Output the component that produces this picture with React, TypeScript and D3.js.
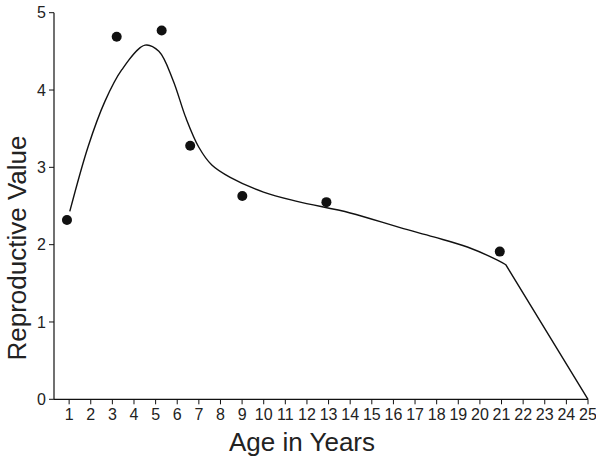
import React from "react";
import * as d3 from "d3";

const xTicks = d3.range(1, 26);
const yTicks = [0, 1, 2, 3, 4, 5];

const pointAge = [0.9, 3.2, 5.28, 6.6, 9.01, 12.9, 20.92];
const pointValue = [2.32, 4.69, 4.77, 3.28, 2.63, 2.55, 1.91];

const curveAge = [1.03, 1.88, 2.65, 3.43, 4.51, 5.15, 5.8, 6.4, 7.0, 7.6, 8.45, 9.99, 11.54, 14.0, 16.31, 17.86, 19.42, 20.81, 21.2];
const curveValue = [2.43, 3.27, 3.85, 4.26, 4.58, 4.5, 4.13, 3.64, 3.26, 3.03, 2.87, 2.68, 2.56, 2.41, 2.22, 2.1, 1.97, 1.8, 1.74];
const tailAge = [21.2, 25];
const tailValue = [1.74, 0];

const xTitle = "Age in Years";
const yTitle = "Reproductive Value";

export default function App() {
  const W = 596, H = 458;
  const x = d3.scaleLinear().domain([0.3, 25]).range([54, 588]);
  const y = d3.scaleLinear().domain([0, 5]).range([399.3, 12.7]);

  const smooth = d3
    .line<[number, number]>()
    .x((d) => x(d[0]))
    .y((d) => y(d[1]))
    .curve(d3.curveCatmullRom.alpha(0.5));
  const straight = d3
    .line<[number, number]>()
    .x((d) => x(d[0]))
    .y((d) => y(d[1]));

  const smoothPts: [number, number][] = curveAge.map((a, i) => [a, curveValue[i]]);
  const tailPts: [number, number][] = tailAge.map((a, i) => [a, tailValue[i]]);
  const tailPath = straight(tailPts) || "";
  const pathD = (smooth(smoothPts) || "") + "L" + tailPath.split("L")[1];

  const tickFont = "'Liberation Sans Narrow', 'Liberation Sans', Arial, sans-serif";
  const titleFont = "'Liberation Sans', Arial, Helvetica, sans-serif";
  const x0 = x.range()[0];
  const y0 = y(0);

  return (
    <svg width={W} height={H} style={{ position: "absolute", left: 0, top: 0, background: "#fff" }}>
      {/* axes */}
      <line x1={x0} x2={x0} y1={y(5)} y2={y0} stroke="#111" strokeWidth={1.2} />
      <line x1={x0} x2={x(25)} y1={y0} y2={y0} stroke="#111" strokeWidth={1.2} />
      {yTicks.map((t) => (
        <g key={"y" + t}>
          <line x1={x0 - 5} x2={x0} y1={y(t)} y2={y(t)} stroke="#111" strokeWidth={1} />
          <text x={x0 - 8} y={y(t)} dy="0.35em" textAnchor="end" fontFamily={tickFont} fontSize={16} fill="#222">
            {t}
          </text>
        </g>
      ))}
      {xTicks.map((t) => (
        <g key={"x" + t}>
          <line x1={x(t)} x2={x(t)} y1={y0} y2={y0 + 5} stroke="#111" strokeWidth={1} />
          <text x={x(t)} y={420} textAnchor="middle" fontFamily={tickFont} fontSize={16} fill="#222">
            {t}
          </text>
        </g>
      ))}
      {/* titles */}
      <text x={302} y={451} textAnchor="middle" fontFamily={titleFont} fontSize={26} fill="#222">
        {xTitle}
      </text>
      <text
        transform={`translate(26,248) rotate(-90)`}
        textAnchor="middle"
        fontFamily={titleFont}
        fontSize={26}
        fill="#222"
      >
        {yTitle}
      </text>
      {/* curve */}
      <path d={pathD} fill="none" stroke="#111" strokeWidth={1.4} />
      {/* points */}
      {pointAge.map((a, i) => (
        <circle key={"p" + i} cx={x(a)} cy={y(pointValue[i])} r={5} fill="#111" />
      ))}
    </svg>
  );
}
